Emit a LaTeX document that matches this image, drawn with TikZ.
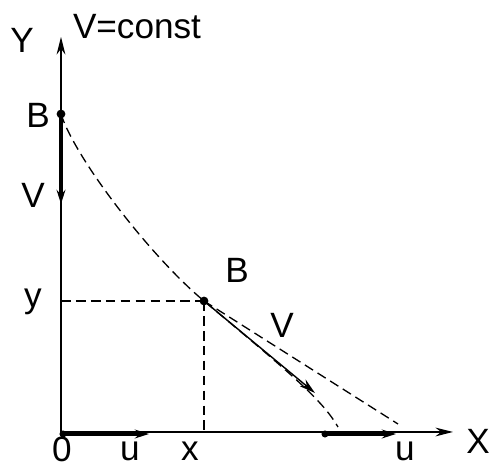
\documentclass[tikz,border=0pt]{standalone}
\usepackage{fontspec}
\setmainfont{Liberation Sans}
\usetikzlibrary{arrows.meta}
\begin{document}
\begin{tikzpicture}[font=\fontsize{20}{24}\selectfont,
    lab/.style={inner sep=1pt},
    dot/.style={circle,fill=black,inner sep=0pt,minimum size=5pt},
    guide/.style={dash pattern=on 5.5pt off 3pt,line width=0.75pt},
    axis/.style={line width=0.8pt,-{Stealth[length=10pt,width=5pt]}},
    vel/.style={line width=1.8pt,-{Stealth[length=8pt,width=5pt]}}]
    \useasboundingbox (0,0) rectangle (9.92,9.36);

    \coordinate (O) at (1.22,0.72);
    \coordinate (Ytop) at (1.22,8.62);
    \coordinate (Xend) at (9.06,0.72);
    \coordinate (V1end) at (1.22,5.28);
    \coordinate (Yfoot) at (1.22,3.34);
    \coordinate (Xfoot) at (4.08,0.72);
    \coordinate (Tend) at (6.30,1.50);
    \coordinate (Cend) at (6.76,0.82);
    \coordinate (Lend) at (7.96,0.88);
    \coordinate (U1end) at (2.98,0.68);
    \coordinate (U2end) at (7.92,0.68);

    \node[dot] (B1) at (1.22,7.08) {};
    \node[dot] (B2) at (4.08,3.34) {};
    \node[dot,minimum size=4pt] (O1) at (1.26,0.68) {};
    \node[dot,minimum size=4pt] (O2) at (6.50,0.68) {};

    \draw[axis] (O) -- (Ytop);
    \draw[axis] (O) -- (Xend);

    \draw[guide] (B1.center) .. controls (1.5,6.2) and (3.0,4.24) .. (B2.center)
        .. controls (5.9,1.82) and (6.45,1.35) .. (Cend);
    \draw[guide] (B2.center) -- (Lend);
    \draw[guide] (Yfoot) -- (B2.center);
    \draw[guide] (B2.center) -- (Xfoot);

    \draw[vel] (B1.center) -- (V1end);
    \draw[line width=0.8pt,-{Stealth[length=9pt,width=5pt]}] (B2.center) -- (Tend);
    \draw[vel] (O1.center) -- (U1end);
    \draw[vel] (O2.center) -- (U2end);

    \node[lab] (labY) at (0.44,8.56) {Y};
    \node[lab] (labConst) at (2.74,8.82) {V=const};
    \node[lab] (labB1) at (0.76,7.06) {B};
    \node[lab] (labV1) at (0.66,5.46) {V};
    \node[lab] (laby) at (0.66,3.32) {y};
    \node[lab] (labB2) at (4.74,3.96) {B};
    \node[lab] (labV2) at (5.64,2.86) {V};
    \node[lab] (lab0) at (1.24,0.38) {0};
    \node[lab] (labu1) at (2.60,0.34) {u};
    \node[lab] (labx) at (3.80,0.34) {x};
    \node[lab] (labu2) at (8.10,0.34) {u};
    \node[lab] (labX) at (9.56,0.54) {X};
\end{tikzpicture}
\end{document}
